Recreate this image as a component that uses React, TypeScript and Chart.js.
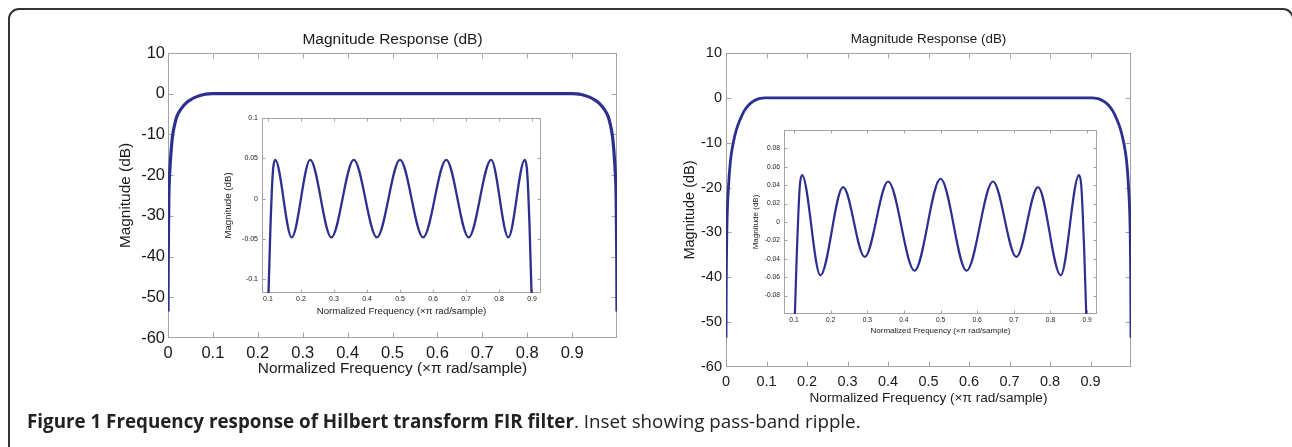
import React, { useEffect, useRef } from 'react';
import { Chart, registerables } from 'chart.js';

Chart.register(...registerables);

// ---------------- data ----------------
// Left main panel: magnitude response (dB) vs normalized frequency
const leftFreq = [0, 0.0005, 0.002, 0.004, 0.007, 0.01, 0.015, 0.02, 0.03, 0.04, 0.05, 0.06, 0.07, 0.08, 0.09, 0.1, 0.2, 0.3, 0.4, 0.5, 0.6, 0.7, 0.8, 0.9, 0.91, 0.92, 0.93, 0.94, 0.95, 0.96, 0.97, 0.98, 0.985, 0.99, 0.993, 0.996, 0.998, 0.9995, 1];
const leftMag = [-53.5, -40, -25, -19, -14, -10.5, -7.5, -5.5, -3.6, -2.3, -1.5, -0.9, -0.5, -0.2, -0.06, 0, 0, 0, 0, 0, 0, 0, 0, 0, -0.06, -0.2, -0.5, -0.9, -1.5, -2.3, -3.6, -5.5, -7.5, -10.5, -14, -19, -25, -40, -53.5];

// Right main panel
const rightFreq = [0, 0.0007, 0.002, 0.006, 0.011, 0.018, 0.025, 0.035, 0.045, 0.055, 0.065, 0.075, 0.085, 0.095, 0.2, 0.3, 0.4, 0.5, 0.6, 0.7, 0.8, 0.905, 0.915, 0.925, 0.935, 0.945, 0.955, 0.965, 0.975, 0.982, 0.989, 0.994, 0.998, 0.9993, 1];
const rightMag = [-53.5, -40, -30, -20, -14, -10, -7.3, -4.8, -2.9, -1.7, -0.9, -0.4, -0.12, 0, 0, 0, 0, 0, 0, 0, 0, 0, -0.12, -0.4, -0.9, -1.7, -2.9, -4.8, -7.3, -10, -14, -20, -30, -40, -53.5];

// Left inset: pass-band ripple
const leftInsetFreq = [0.1, 0.104, 0.108, 0.112, 0.116, 0.122, 0.172, 0.228, 0.292, 0.36, 0.43, 0.5, 0.57, 0.64, 0.708, 0.776, 0.828, 0.878, 0.884, 0.888, 0.892, 0.896, 0.9];
const leftInsetMag = [-0.14, -0.085, -0.03, 0.012, 0.038, 0.048, -0.048, 0.048, -0.048, 0.048, -0.048, 0.048, -0.048, 0.048, -0.048, 0.048, -0.048, 0.048, 0.038, 0.012, -0.03, -0.085, -0.14];

// Right inset: pass-band ripple
const rightInsetFreq = [0.1, 0.104, 0.108, 0.112, 0.116, 0.122, 0.172, 0.234, 0.293, 0.357, 0.429, 0.5, 0.571, 0.643, 0.707, 0.766, 0.828, 0.878, 0.884, 0.888, 0.892, 0.896, 0.9];
const rightInsetMag = [-0.13, -0.08, -0.03, 0.01, 0.04, 0.051, -0.058, 0.038, -0.038, 0.044, -0.053, 0.047, -0.053, 0.044, -0.038, 0.038, -0.058, 0.051, 0.04, 0.01, -0.03, -0.08, -0.13];

// ticks
const mainXTicks = [0, 0.1, 0.2, 0.3, 0.4, 0.5, 0.6, 0.7, 0.8, 0.9];
const mainXLabels = ['0', '0.1', '0.2', '0.3', '0.4', '0.5', '0.6', '0.7', '0.8', '0.9'];
const mainYTicks = [-60, -50, -40, -30, -20, -10, 0, 10];
const mainYLabels = ['-60', '-50', '-40', '-30', '-20', '-10', '0', '10'];
const insetXTicks = [0.1, 0.2, 0.3, 0.4, 0.5, 0.6, 0.7, 0.8, 0.9];
const insetXLabels = ['0.1', '0.2', '0.3', '0.4', '0.5', '0.6', '0.7', '0.8', '0.9'];
const leftInsetYTicks = [-0.1, -0.05, 0, 0.05, 0.1];
const leftInsetYLabels = ['-0.1', '-0.05', '0', '0.05', '0.1'];
const rightInsetYTicks = [-0.1, -0.08, -0.06, -0.04, -0.02, 0, 0.02, 0.04, 0.06, 0.08, 0.1];
const rightInsetYLabels = ['', '-0.08', '-0.06', '-0.04', '-0.02', '0', '0.02', '0.04', '0.06', '0.08', ''];

const TITLE = 'Magnitude Response (dB)';
const X_TITLE = 'Normalized Frequency (\u00d7\u03c0 rad/sample)';
const Y_TITLE = 'Magnitude (dB)';

// ---------------- styling ----------------
const FONT = '"Liberation Sans", Arial, Helvetica, sans-serif';
const LINE = '#2c2f8e';
const BOX = '#a3a3a3';
const TXT = '#1a1a1a';

const framePlugin = {
  id: 'frame',
  beforeDatasetsDraw(chart: any, _a: any, opts: any) {
    const { ctx, chartArea: a, scales } = chart;
    const len = opts.len ?? 5;
    const L = Math.round(a.left) + 0.5;
    const R = Math.round(a.right) - 0.5;
    const T = Math.round(a.top) + 0.5;
    const B = Math.round(a.bottom) - 0.5;
    ctx.save();
    ctx.strokeStyle = BOX;
    ctx.lineWidth = 1;
    ctx.strokeRect(L, T, R - L, B - T);
    ctx.beginPath();
    for (const t of scales.x.ticks) {
      const p = Math.round(scales.x.getPixelForValue(t.value)) + 0.5;
      if (p <= L + 1 || p >= R - 1) continue;
      ctx.moveTo(p, B);
      ctx.lineTo(p, B - len);
      ctx.moveTo(p, T);
      ctx.lineTo(p, T + len);
    }
    for (const t of scales.y.ticks) {
      const p = Math.round(scales.y.getPixelForValue(t.value)) + 0.5;
      if (p <= T + 1 || p >= B - 1) continue;
      ctx.moveTo(L, p);
      ctx.lineTo(L + len, p);
      ctx.moveTo(R, p);
      ctx.lineTo(R - len, p);
    }
    ctx.stroke();
    ctx.restore();
  },
};

type PanelCfg = {
  left: number; top: number; width: number; height: number;
  xs: number[]; ys: number[];
  xMin: number; xMax: number; yMin: number; yMax: number;
  xTicks: number[]; xLabels: string[]; yTicks: number[]; yLabels: string[];
  tickSize: number; axisTitleSize: number; xTitleSize?: number;
  title?: string; titleSize?: number; titlePadTop?: number; titlePadBottom?: number;
  padTop: number; padRight: number;
  yAxisWidth: number; yLabelPad: number; yTitlePad: number;
  xAxisHeight: number; xLabelPad: number; xTitlePad: number;
  lineWidth: number; tickLen: number;
};

function Panel({ cfg }: { cfg: PanelCfg }) {
  const ref = useRef<HTMLCanvasElement | null>(null);
  useEffect(() => {
    if (!ref.current) return;
    const c = cfg;
    const chart = new Chart(ref.current, {
      type: 'line',
      data: {
        datasets: [
          {
            data: c.xs.map((x, i) => ({ x, y: c.ys[i] })),
            borderColor: LINE,
            borderWidth: c.lineWidth,
            pointRadius: 0,
            cubicInterpolationMode: 'monotone',
            fill: false,
          } as any,
        ],
      },
      options: {
        animation: false,
        responsive: false,
        events: [],
        layout: { autoPadding: false, padding: { top: c.padTop, right: c.padRight, left: 0, bottom: 0 } },
        plugins: {
          legend: { display: false },
          tooltip: { enabled: false },
          title: c.title
            ? {
                display: true,
                fullSize: false,
                text: c.title,
                color: TXT,
                font: { family: FONT, size: c.titleSize, weight: 'normal' as any, lineHeight: 1.2 },
                padding: { top: c.titlePadTop, bottom: c.titlePadBottom },
              }
            : { display: false },
          frame: { len: c.tickLen },
        } as any,
        scales: {
          x: {
            type: 'linear',
            min: c.xMin,
            max: c.xMax,
            grid: { display: false, drawTicks: false },
            border: { display: false },
            afterBuildTicks: (s: any) => {
              s.ticks = c.xTicks.map((v) => ({ value: v }));
            },
            afterFit: (s: any) => {
              s.height = c.xAxisHeight;
              s.paddingLeft = 0;
              s.paddingRight = 0;
            },
            ticks: {
              autoSkip: false,
              maxRotation: 0,
              padding: c.xLabelPad,
              color: TXT,
              font: { family: FONT, size: c.tickSize, lineHeight: 1.2 },
              callback: (_v: any, i: number) => c.xLabels[i],
            },
            title: {
              display: true,
              text: X_TITLE,
              color: TXT,
              font: { family: FONT, size: c.xTitleSize ?? c.axisTitleSize, lineHeight: 1.2 },
              padding: { top: 0, bottom: c.xTitlePad },
            },
          },
          y: {
            type: 'linear',
            min: c.yMin,
            max: c.yMax,
            grid: { display: false, drawTicks: false },
            border: { display: false },
            afterBuildTicks: (s: any) => {
              s.ticks = c.yTicks.map((v) => ({ value: v }));
            },
            afterFit: (s: any) => {
              s.width = c.yAxisWidth;
              s.paddingTop = 0;
              s.paddingBottom = 0;
            },
            ticks: {
              autoSkip: false,
              padding: c.yLabelPad,
              color: TXT,
              font: { family: FONT, size: c.tickSize, lineHeight: 1.2 },
              callback: (_v: any, i: number) => c.yLabels[i],
            },
            title: {
              display: true,
              text: Y_TITLE,
              color: TXT,
              font: { family: FONT, size: c.axisTitleSize, lineHeight: 1.2 },
              padding: { top: c.yTitlePad, bottom: 0 },
            },
          },
        },
      } as any,
      plugins: [framePlugin as any],
    });
    return () => chart.destroy();
  }, [cfg]);
  return (
    <canvas
      ref={ref}
      width={cfg.width}
      height={cfg.height}
      style={{ position: 'absolute', left: cfg.left, top: cfg.top, width: cfg.width, height: cfg.height }}
    />
  );
}

const leftMain: PanelCfg = {
  left: 90, top: 18, width: 545, height: 382,
  xs: leftFreq, ys: leftMag,
  xMin: 0, xMax: 1, yMin: -60, yMax: 10,
  xTicks: mainXTicks, xLabels: mainXLabels, yTicks: mainYTicks, yLabels: mainYLabels,
  tickSize: 16.5, axisTitleSize: 15.4,
  title: TITLE, titleSize: 15.5, titlePadTop: 12.3, titlePadBottom: 4.1,
  padTop: 0, padRight: 18,
  yAxisWidth: 78, yLabelPad: 3, yTitlePad: 26.4,
  xAxisHeight: 62, xLabelPad: 5.2, xTitlePad: 22,
  lineWidth: 3.2, tickLen: 5,
};

const leftInset: PanelCfg = {
  left: 210, top: 110, width: 345, height: 215,
  xs: leftInsetFreq, ys: leftInsetMag,
  xMin: 0.082, xMax: 0.927, yMin: -0.117, yMax: 0.1,
  xTicks: insetXTicks, xLabels: insetXLabels, yTicks: leftInsetYTicks, yLabels: leftInsetYLabels,
  tickSize: 7, axisTitleSize: 9.7,
  padTop: 8, padRight: 14,
  yAxisWidth: 52, yLabelPad: 4, yTitlePad: 13,
  xAxisHeight: 32, xLabelPad: 1.8, xTitlePad: 7.5,
  lineWidth: 2.3, tickLen: 3,
};

const rightMain: PanelCfg = {
  left: 650, top: 18, width: 500, height: 402,
  xs: rightFreq, ys: rightMag,
  xMin: 0, xMax: 1, yMin: -60, yMax: 10,
  xTicks: mainXTicks, xLabels: mainXLabels, yTicks: mainYTicks, yLabels: mainYLabels,
  tickSize: 14.5, axisTitleSize: 14.5, xTitleSize: 13.6,
  title: TITLE, titleSize: 13.4, titlePadTop: 13.1, titlePadBottom: 5.8,
  padTop: 0, padRight: 19,
  yAxisWidth: 76, yLabelPad: 4, yTitlePad: 31.3,
  xAxisHeight: 53, xLabelPad: 5.8, xTitlePad: 13.2,
  lineWidth: 2.8, tickLen: 5,
};

const rightInset: PanelCfg = {
  left: 735, top: 122, width: 380, height: 220,
  xs: rightInsetFreq, ys: rightInsetMag,
  xMin: 0.0727, xMax: 0.927, yMin: -0.1, yMax: 0.1,
  xTicks: insetXTicks, xLabels: insetXLabels, yTicks: rightInsetYTicks, yLabels: rightInsetYLabels,
  tickSize: 6.7, axisTitleSize: 8, xTitleSize: 8,
  padTop: 8, padRight: 18,
  yAxisWidth: 49, yLabelPad: 4, yTitlePad: 16.2,
  xAxisHeight: 28, xLabelPad: 2, xTitlePad: 6.2,
  lineWidth: 2.2, tickLen: 3,
};

export default function App() {
  return (
    <div
      style={{
        position: 'fixed', left: 0, top: 0, width: 1292, height: 447,
        overflow: 'hidden', background: '#fff',
      }}
    >
      <div
        style={{
          position: 'absolute', left: 8, top: 8, width: 1286, height: 520,
          boxSizing: 'border-box', border: '2px solid #333', borderRadius: 11,
        }}
      />
      <Panel cfg={leftMain} />
      <Panel cfg={leftInset} />
      <Panel cfg={rightMain} />
      <Panel cfg={rightInset} />
      <div
        style={{
          position: 'absolute', left: 27, top: 408.5, whiteSpace: 'nowrap',
          fontFamily: '"Open Sans", "Noto Sans", sans-serif', fontSize: 18.8, lineHeight: '24px',
          color: '#222',
        }}
      >
        <span style={{ fontWeight: 700 }}>Figure 1 Frequency response of Hilbert transform FIR filter</span>
        <span>. Inset showing pass-band ripple.</span>
      </div>
    </div>
  );
}
